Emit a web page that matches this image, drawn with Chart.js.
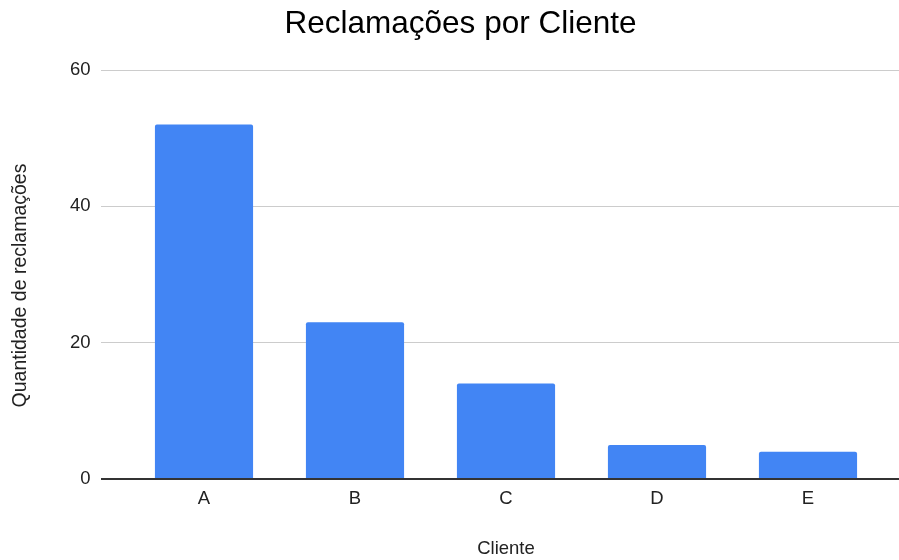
<!DOCTYPE html>
<html>
<head>
<meta charset="utf-8">
<script src="https://cdn.jsdelivr.net/npm/chart.js@4"></script>
<style>
  html, body { margin: 0; padding: 0; background: #fff; }
  #wrap { width: 899px; height: 560px; }
</style>
</head>
<body>
<div id="wrap"><canvas id="c" width="899" height="560"></canvas></div>
<script>
const categories = ['A', 'B', 'C', 'D', 'E'];
const values = [52, 23, 14, 5, 4];
const yTicks = [0, 20, 40, 60];
const chartTitle = 'Reclamações por Cliente';
const xTitle = 'Cliente';
const yTitle = 'Quantidade de reclamações';

const FONT = "Arial, 'Liberation Sans', sans-serif";

const insetPlugin = {
  id: 'inset',
  afterLayout(chart) {
    const area = chart.chartArea;
    // category band narrower than the gridlines
    const xs = chart.scales.x;
    xs.left = area.left + 27.5;
    xs.right = area.right - 15.5;
    xs.configure();
    // nudge the y-axis title downward (ticks already configured)
    const ys = chart.scales.y;
    ys.top += 11;
    ys.bottom += 11;
    // nudge chart title to the right
    if (chart.titleBlock) {
      chart.titleBlock.left += 11;
      chart.titleBlock.right += 11;
    }
  }
};

new Chart(document.getElementById('c'), {
  type: 'bar',
  data: {
    labels: categories,
    datasets: [{
      data: values,
      backgroundColor: '#4285F4',
      borderRadius: 2,
      barPercentage: 0.65,
      categoryPercentage: 1.0
    }]
  },
  options: {
    responsive: false,
    animation: false,
    devicePixelRatio: 1,
    layout: { padding: { left: 0, right: 0, top: 0, bottom: 0 } },
    plugins: {
      legend: { display: false },
      tooltip: { enabled: false },
      title: {
        display: true,
        text: chartTitle,
        color: '#000',
        font: { family: FONT, size: 31.5, weight: 'normal' },
        padding: { top: 5.4, bottom: 26.8 }
      }
    },
    scales: {
      x: {
        grid: { display: false, drawTicks: false },
        border: { display: false },
        ticks: {
          color: '#222',
          font: { family: FONT, size: 18.5 },
          padding: 8.5,
          maxRotation: 0
        },
        title: {
          display: true,
          text: xTitle,
          color: '#222',
          font: { family: FONT, size: 18.5 },
          padding: { top: 0, bottom: 0 }
        },
        afterFit(scale) { scale.height = 81; }
      },
      y: {
        min: 0,
        max: 60,
        afterBuildTicks(scale) { scale.ticks = yTicks.map(v => ({ value: v })); },
        grid: {
          drawTicks: false,
          color: ctx => (ctx.tick && ctx.tick.value === 0) ? '#333' : '#ccc',
          lineWidth: ctx => (ctx.tick && ctx.tick.value === 0) ? 2 : 1
        },
        border: { display: false },
        ticks: {
          color: '#222',
          font: { family: FONT, size: 18.5 },
          padding: 10.5
        },
        title: {
          display: true,
          text: yTitle,
          color: '#222',
          font: { family: FONT, size: 19.5 },
          padding: { top: 8.5, bottom: 0 }
        },
        afterFit(scale) { scale.width = 101; }
      }
    }
  },
  plugins: [insetPlugin]
});
</script>
</body>
</html>
